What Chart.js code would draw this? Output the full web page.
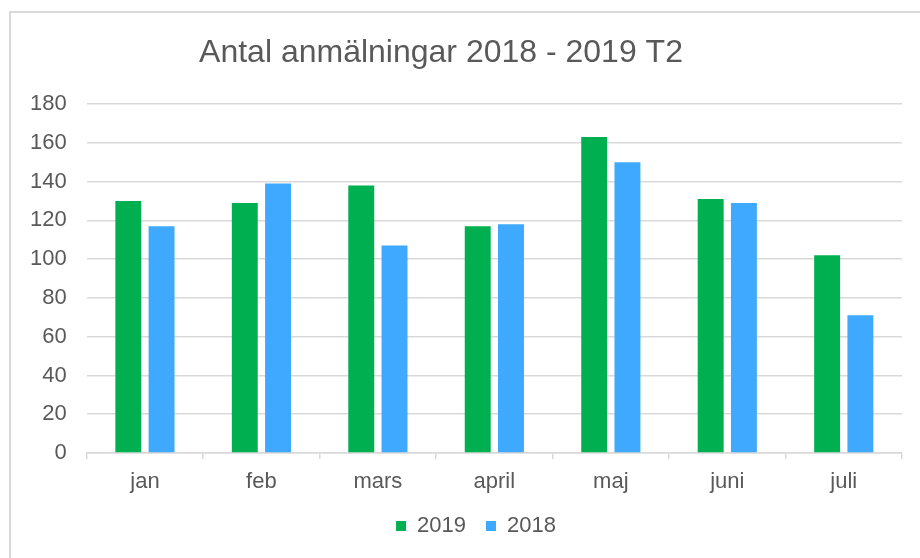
<!DOCTYPE html>
<html>
<head>
<meta charset="utf-8">
<script src="https://cdn.jsdelivr.net/npm/chart.js@4"></script>
<style>
    html, body { margin: 0; padding: 0; background: #fff; }
    #wrap { position: relative; width: 920px; height: 558px; overflow: hidden; }
    #frame { position: absolute; left: 9px; top: 11px; width: 1000px; height: 700px;
             border-top: 2px solid #d9d9d9; border-left: 2px solid #d9d9d9; }
    #chart { position: absolute; left: 0; top: 0; }
</style>
</head>
<body>
<div id="wrap">
    <div id="frame"></div>
    <canvas id="chart" width="920" height="558"></canvas>
</div>
<script>
const months = ['jan', 'feb', 'mars', 'april', 'maj', 'juni', 'juli'];
const values2019 = [130, 129, 138, 117, 163, 131, 102];
const values2018 = [117, 139, 107, 118, 150, 129, 71];
const titleText = 'Antal anmälningar 2018 - 2019 T2';

const textColor = '#595959',
    gridColor = '#d9d9d9',
    font = '"Liberation Sans", Arial, sans-serif';

// title drawn by hand, it sits left of the centre in the original
const titlePlugin = {
    id: 'offTitle',
    afterLayout(chart) {
        // legend is a bit right of centre and tighter under the axis
        chart.legend.left += 20;
        chart.legend.right += 20;
        chart.legend.top -= 10;
        chart.legend.bottom -= 10;
    },
    afterDraw(chart) {
        let ctx = chart.ctx;
        ctx.save();
        ctx.font = '32px ' + font;
        ctx.fillStyle = textColor;
        ctx.textAlign = 'center';
        ctx.textBaseline = 'alphabetic';
        ctx.fillText(titleText, 441, 62);
        ctx.restore();
    }
};

const data = {
    labels: months,
    datasets: [{
        label: '2019',
        data: values2019,
        backgroundColor: '#00b050'
    }, {
        label: '2018',
        data: values2018,
        backgroundColor: '#3fa9ff'
    }]
};

const config = {
    type: 'bar',
    data: data,
    plugins: [titlePlugin],
    options: {
        responsive: false,
        animation: false,
        layout: {
            padding: { left: 10, right: 18, top: 104, bottom: 1 }
        },
        datasets: {
            bar: {
                categoryPercentage: 0.571,
                barPercentage: 0.78
            }
        },
        plugins: {
            title: { display: false },
            tooltip: { enabled: false },
            legend: {
                position: 'bottom',
                labels: {
                    boxWidth: 10,
                    boxHeight: 10,
                    padding: 20,
                    color: textColor,
                    font: { family: font, size: 22, lineHeight: 1.0 }
                }
            }
        },
        scales: {
            x: {
                grid: {
                    drawOnChartArea: false,
                    drawTicks: true,
                    tickLength: 6,
                    color: gridColor,
                    lineWidth: 1.5
                },
                border: { color: gridColor, width: 1.5 },
                ticks: {
                    color: textColor,
                    padding: 12,
                    font: { family: font, size: 22, lineHeight: 1.0 }
                }
            },
            y: {
                min: 0,
                max: 180,
                grid: {
                    drawTicks: false,
                    color: gridColor,
                    lineWidth: 1.5
                },
                border: { display: false },
                ticks: {
                    stepSize: 20,
                    padding: 20,
                    color: textColor,
                    font: { family: font, size: 22 }
                }
            }
        }
    }
};

const myChart = new Chart(document.getElementById('chart'), config);
</script>
</body>
</html>
